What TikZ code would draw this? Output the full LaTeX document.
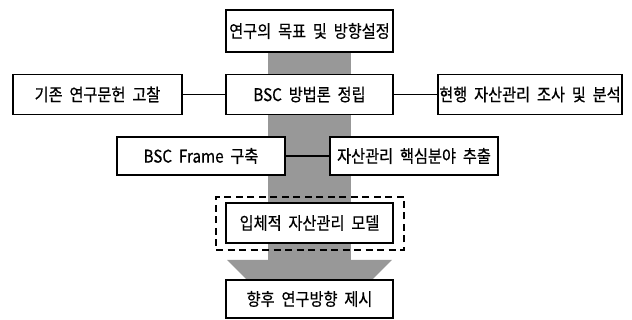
\documentclass[tikz,border=0pt]{standalone}
\usepackage{fontspec}
\setmainfont{Noto Sans CJK KR}[WordSpace=2.0,FakeStretch=0.87,FakeBold=0.5]
\definecolor{shaftgray}{RGB}{152,152,152}
\begin{document}
\begin{tikzpicture}[x=1pt,y=1pt,
  stepbox/.style={draw=black,line width=1.9pt,fill=white,inner sep=0pt,
    minimum width=#1,minimum height=40pt,font=\fontsize{17.5}{19}\selectfont},
  stepbox/.default=167pt,
  link/.style={line width=1.9pt},
  dashbox/.style={draw=black,line width=1.8pt,dash pattern=on 7pt off 4.5pt,inner sep=0pt}]
\useasboundingbox (0,0) rectangle (632,320);
% gray shaft and arrow head
\fill[shaftgray] (268,268) rectangle (351,60);
\fill[shaftgray] (227,60) -- (392,60) -- (367,35) -- (252,35) -- cycle;
% boxes
\node[stepbox, minimum height=42pt] (top) at (309.5,289) {연구의 목표 및 방향설정};
\node[stepbox] (bsc) at (309.5,225.5) {BSC 방법론 정립};
\node[stepbox=169pt] (lit) at (97.5,225.5) {기존 연구문헌 고찰};
\node[stepbox=184pt] (cur) at (530,225.5) {현행 자산관리 조사 및 분석};
\node[stepbox=168pt, minimum height=38pt] (frame) at (201,164) {BSC Frame 구축};
\node[stepbox=168pt, minimum height=38pt] (core) at (414,164) {자산관리 핵심분야 추출};
\node[dashbox, minimum width=188pt, minimum height=53pt] (group) at (310,96.5) {};
\node[stepbox] (model) at (309.5,97) {입체적 자산관리 모델};
\node[stepbox, minimum height=38pt] (future) at (309.5,21) {향후 연구방향 제시};
% connectors
\draw[link] (lit.east) -- (bsc.west);
\draw[link] (bsc.east) -- (cur.west);
\draw[link] (frame.east) -- (core.west);
\end{tikzpicture}
\end{document}
